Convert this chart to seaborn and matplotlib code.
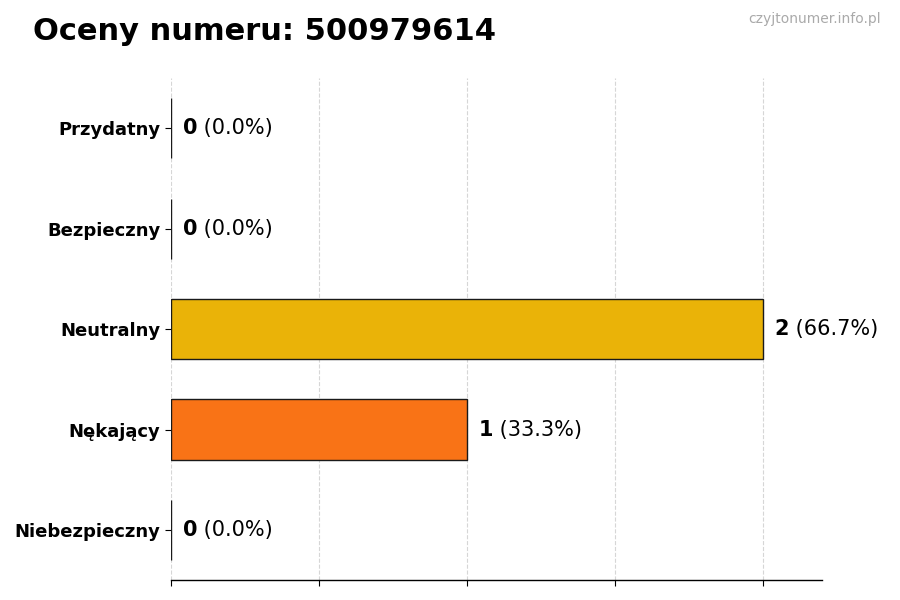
import matplotlib
matplotlib.use("Agg")
import matplotlib.pyplot as plt
import pandas as pd
import seaborn as sns

CATEGORIES = ["Przydatny", "Bezpieczny", "Neutralny", "Nękający", "Niebezpieczny"]
COUNTS = [0, 0, 2, 1, 0]
COLORS = ["#22c55e", "#3b82f6", "#eab308", "#f97316", "#ef4444"]
TITLE = "Oceny numeru: 500979614"
WATERMARK = "czyjtonumer.info.pl"
X_TICKS = [0, 0.5, 1, 1.5, 2]


def main() -> None:
    sns.set_theme(style="white")
    plt.rcParams["font.family"] = ["DejaVu Sans"]
    plt.rcParams["text.color"] = "black"
    plt.rcParams["xtick.color"] = "black"
    plt.rcParams["ytick.color"] = "black"
    plt.rcParams["axes.labelcolor"] = "black"

    df = pd.DataFrame({"category": CATEGORIES, "count": COUNTS})
    total = sum(COUNTS)

    fig = plt.figure(figsize=(9, 6), dpi=100)
    ax = fig.add_axes([0.19, 0.033, 0.723, 0.837])
    sns.barplot(
        data=df,
        y="category",
        x="count",
        hue="category",
        palette=COLORS,
        saturation=1,
        orient="h",
        width=0.6,
        edgecolor="#1a1a1a",
        linewidth=1.0,
        legend=False,
        ax=ax,
    )
    ax.set_xlim(0, 2.2)
    ax.set_ylim(4.5, -0.5)
    ax.set_xticks(X_TICKS)
    ax.set_xticklabels([])
    ax.set_xlabel("")
    ax.set_ylabel("")
    ax.tick_params(axis="both", length=4, width=0.8, left=True, bottom=True)
    ax.tick_params(axis="y", labelsize=13, labelcolor="black")
    for lbl in ax.get_yticklabels():
        lbl.set_fontweight("bold")
    ax.grid(axis="x", linestyle="--", color="#cccccc", linewidth=0.8, alpha=0.8)
    ax.set_axisbelow(True)
    for side in ["top", "right", "left"]:
        ax.spines[side].set_visible(False)
    ax.spines["bottom"].set_color("black")
    ax.spines["bottom"].set_linewidth(1.0)

    for i, value in enumerate(COUNTS):
        pct = value / total * 100 if total else 0
        t = ax.text(value + 0.04, i, f"{value}", va="center", ha="left",
                    fontsize=15, fontweight="bold", color="black")
        ax.annotate(f" ({pct:.1f}%)", xy=(1, 0.5), xycoords=t, va="center",
                    ha="left", fontsize=15, color="black")

    fig.text(0.037, 0.947, TITLE, fontsize=22, fontweight="bold", va="center",
             ha="left", color="black")
    fig.text(0.979, 0.969, WATERMARK, fontsize=10, color="#aaaaaa", va="center", ha="right")

    fig.savefig("out.png", dpi=100, facecolor="white")


if __name__ == "__main__":
    main()
